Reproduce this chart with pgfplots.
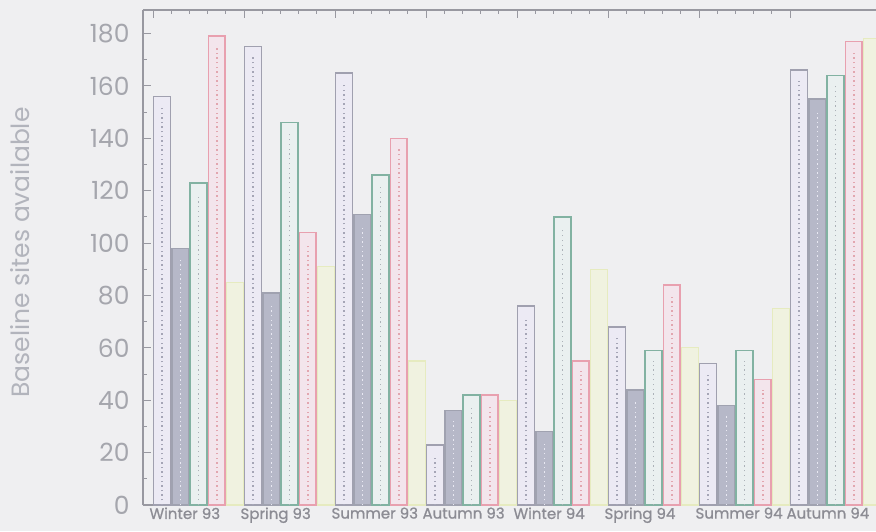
\documentclass[border=0pt]{standalone}
\usepackage{pgfplots}
\usepackage{pgfplotstable}
\pgfplotsset{compat=1.18}
\usepackage{fontspec}
\setmainfont{Poppins}
\newfontfamily\xlab[FakeBold=0.8]{Poppins}
\definecolor{bg}{RGB}{239,239,241}
\definecolor{frm}{RGB}{152,152,160}
\definecolor{txt}{RGB}{165,166,173}
\definecolor{txty}{RGB}{178,180,188}
\definecolor{txtx}{RGB}{140,140,148}
\definecolor{fA}{RGB}{236,234,244}\definecolor{dA}{RGB}{160,160,175}\definecolor{pA}{RGB}{165,165,182}
\definecolor{fB}{RGB}{182,184,200}\definecolor{dB}{RGB}{160,162,176}\definecolor{pB}{RGB}{232,232,242}
\definecolor{fC}{RGB}{234,240,240}\definecolor{dC}{RGB}{130,178,162}\definecolor{pC}{RGB}{172,178,184}
\definecolor{fD}{RGB}{243,229,236}\definecolor{dD}{RGB}{232,160,175}\definecolor{pD}{RGB}{226,166,175}
\definecolor{fE}{RGB}{240,242,224}\definecolor{dE}{RGB}{230,235,192}
\pgfplotstableread{
x a b c d e
0 156 98 123 179 85
1 175 81 146 104 91
2 165 111 126 140 55
3 23 36 42 42 40
4 76 28 110 55 90
5 68 44 59 84 60
6 54 38 59 48 75
7 166 155 164 177 178
}\datatab
\begin{document}
\begin{tikzpicture}
\fill[bg] (-143pt,-26pt) rectangle (733pt,505pt);
\useasboundingbox (-143pt,-26pt) rectangle (733pt,505pt);
\begin{axis}[
  at={(0,0)}, anchor=south west, scale only axis,
  width=733pt, height=495pt,
  xmin=-0.61, xmax=7.445, ymin=0, ymax=189,
  axis x line*=box, axis y line*=left,
  axis line style={frm, line width=1.6pt},
  tick style={frm, line width=1pt},
  tick align=inside, major tick length=8pt, minor tick length=4pt,
  ytick={0,20,...,180}, minor y tick num=1,
  xtick={-0.5,0.5,...,6.5},
  xticklabels={Winter 93,Spring 93,Summer 93,Autumn 93,Winter 94,Spring 94,Summer 94,Autumn 94},
  minor x tick num=4,
  xtick pos=upper, xticklabel pos=lower,
  /pgf/number format/assume math mode=true,
  yticklabel style={font=\fontsize{25}{26}\selectfont, text=txt, xshift=-10pt},
  xticklabel style={font=\xlab\fontsize{15}{16}\selectfont, text=txtx, anchor=north west, xshift=-7pt, yshift=1pt},
  ylabel={Baseline sites available},
  ylabel style={font=\fontsize{25}{26}\selectfont, text=txty, at={(axis description cs:-0.168,0.51)}, anchor=center},
]
\addplot[ybar, bar width=0.185, bar shift=-0.4, fill=fA, draw=dA, line width=1.5pt] table[x=x,y=a]{\datatab};
\addplot[ybar, bar width=0.185, bar shift=-0.2, fill=fB, draw=dB, line width=1.5pt] table[x=x,y=b]{\datatab};
\addplot[ybar, bar width=0.185, bar shift=0, fill=fC, draw=dC, line width=1.5pt] table[x=x,y=c]{\datatab};
\addplot[ybar, bar width=0.185, bar shift=0.2, fill=fD, draw=dD, line width=1.5pt] table[x=x,y=d]{\datatab};
\addplot[ybar, bar width=0.185, bar shift=0.4, fill=fE, draw=dE, line width=1.2pt] table[x=x,y=e]{\datatab};
\addplot[ycomb, mark=none, pA, line width=1.6pt, dash pattern=on 1.4pt off 3.2pt] table[x expr=\thisrow{x}-0.4,y expr=\thisrow{a}-4]{\datatab};
\addplot[ycomb, mark=none, pB, line width=1.6pt, dash pattern=on 1.4pt off 3.2pt] table[x expr=\thisrow{x}-0.2,y expr=\thisrow{b}-4]{\datatab};
\addplot[ycomb, mark=none, pC, line width=1.4pt, dash pattern=on 1.2pt off 3.6pt] table[x expr=\thisrow{x},y expr=\thisrow{c}-4]{\datatab};
\addplot[ycomb, mark=none, pD, line width=1.6pt, dash pattern=on 1.4pt off 3.2pt] table[x expr=\thisrow{x}+0.2,y expr=\thisrow{d}-4]{\datatab};
\end{axis}
\end{tikzpicture}
\end{document}
